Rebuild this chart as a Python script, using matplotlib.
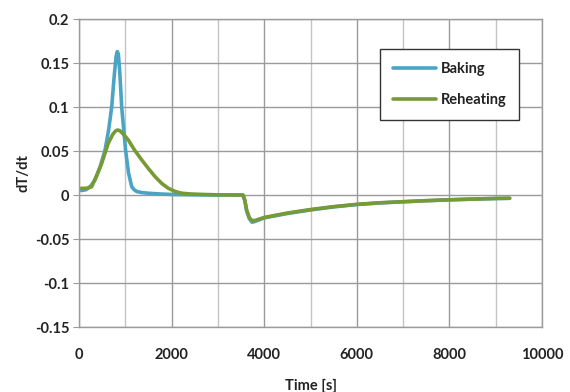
import numpy as np
import matplotlib.pyplot as plt
from matplotlib.ticker import MultipleLocator

# heating rate curves, time in s, dT/dt
baking_t = [50, 150, 250, 345, 450, 562, 640, 706, 760, 800, 827, 850, 880, 922, 965,
            1008, 1070, 1138, 1190, 1245, 1350, 1500, 1750, 2000, 2500, 3000,
            3500, 3540, 3580, 3620, 3680, 3740, 3800, 4000, 4500, 5000, 5500, 6000, 6500,
            7000, 7500, 8000, 8500, 9000, 9300]
baking_v = [0.005, 0.006, 0.010, 0.017, 0.031, 0.051, 0.074, 0.100, 0.135, 0.157, 0.163,
            0.160, 0.140, 0.100, 0.075, 0.050, 0.025, 0.0095, 0.006, 0.004,
            0.0028, 0.002, 0.0012, 0.0006, 0.0002, 0.0, 0.0, 0.0, -0.006, -0.018, -0.027,
            -0.031, -0.030, -0.026, -0.021, -0.017, -0.0135, -0.0108, -0.009, -0.0077,
            -0.0065, -0.0055, -0.0047, -0.004, -0.0037]

reheat_t = [50, 150, 200, 274, 380, 490, 633, 730, 790, 835, 880, 960, 1065, 1200, 1353,
            1500, 1640, 1790, 1930, 2080, 2218, 2400, 2700, 3000, 3500, 3540, 3580, 3620,
            3680, 3740, 3800, 4000, 4500, 5000, 5500, 6000, 6500, 7000, 7500, 8000, 8500,
            9000, 9300]
reheat_v = [0.0076, 0.0076, 0.008, 0.0095, 0.022, 0.036, 0.059, 0.069, 0.0728, 0.0739,
            0.0732, 0.069, 0.0625, 0.051, 0.040, 0.030, 0.021, 0.013, 0.0076, 0.004, 0.002,
            0.0012, 0.0006, 0.0002, 0.0, 0.0, -0.006, -0.017, -0.026, -0.029, -0.029,
            -0.0255, -0.0205, -0.0165, -0.0132, -0.0106, -0.0088, -0.0076, -0.0064, -0.0054,
            -0.0046, -0.0039, -0.0037]

plt.rcParams['font.family'] = ['Lato', 'DejaVu Sans']

fig = plt.figure(figsize=(5.7, 3.92), dpi=100)
ax = fig.add_axes([0.1386, 0.1658, 0.8124, 0.7857])

ax.plot(baking_t, baking_v, color='#4aa5c4', lw=2.6, label='Baking',
        solid_capstyle='round', solid_joinstyle='round')
ax.plot(reheat_t, reheat_v, color='#779a35', lw=2.6, label='Reheating',
        solid_capstyle='round', solid_joinstyle='round')

ax.set_xlim(0, 10000)
ax.set_ylim(-0.15, 0.2)
ax.xaxis.set_major_locator(MultipleLocator(2000))
ax.xaxis.set_minor_locator(MultipleLocator(1000))
ax.set_yticks(np.arange(-0.15, 0.201, 0.05))
ax.set_yticklabels(['-0.15', '-0.1', '-0.05', '0', '0.05', '0.1', '0.15', '0.2'])

ax.grid(True, which='major', color='#9a9a9a', lw=1.0)
ax.grid(True, which='minor', axis='x', color='#c4c4c4', lw=1.0)
ax.set_axisbelow(True)
for s in ax.spines.values():
    s.set_color('#9a9a9a')
    s.set_linewidth(1.0)

ax.tick_params(axis='y', length=4, color='#9a9a9a', labelsize=10.5, pad=3)
ax.tick_params(axis='x', which='both', length=0, labelsize=10.5, pad=15)
for lab in ax.get_xticklabels() + ax.get_yticklabels():
    lab.set_fontweight('bold')
    lab.set_color('#222222')

ax.set_xlabel('Time [s]', fontweight='bold', fontsize=10.5, color='#222222', labelpad=12)
ax.set_ylabel('dT/dt', fontweight='bold', fontsize=10.5, color='#222222', labelpad=3)

leg = ax.legend(loc='upper left', bbox_to_anchor=(0.635, 0.925), frameon=True, fancybox=False,
                edgecolor='#333333', fontsize=10.5, handlelength=3.0, handletextpad=0.3,
                labelspacing=1.2, borderpad=0.85, framealpha=1)
leg.get_frame().set_linewidth(1.0)
for t in leg.get_texts():
    t.set_fontweight('bold')
    t.set_color('#222222')

fig.savefig('out.png', dpi=100)
